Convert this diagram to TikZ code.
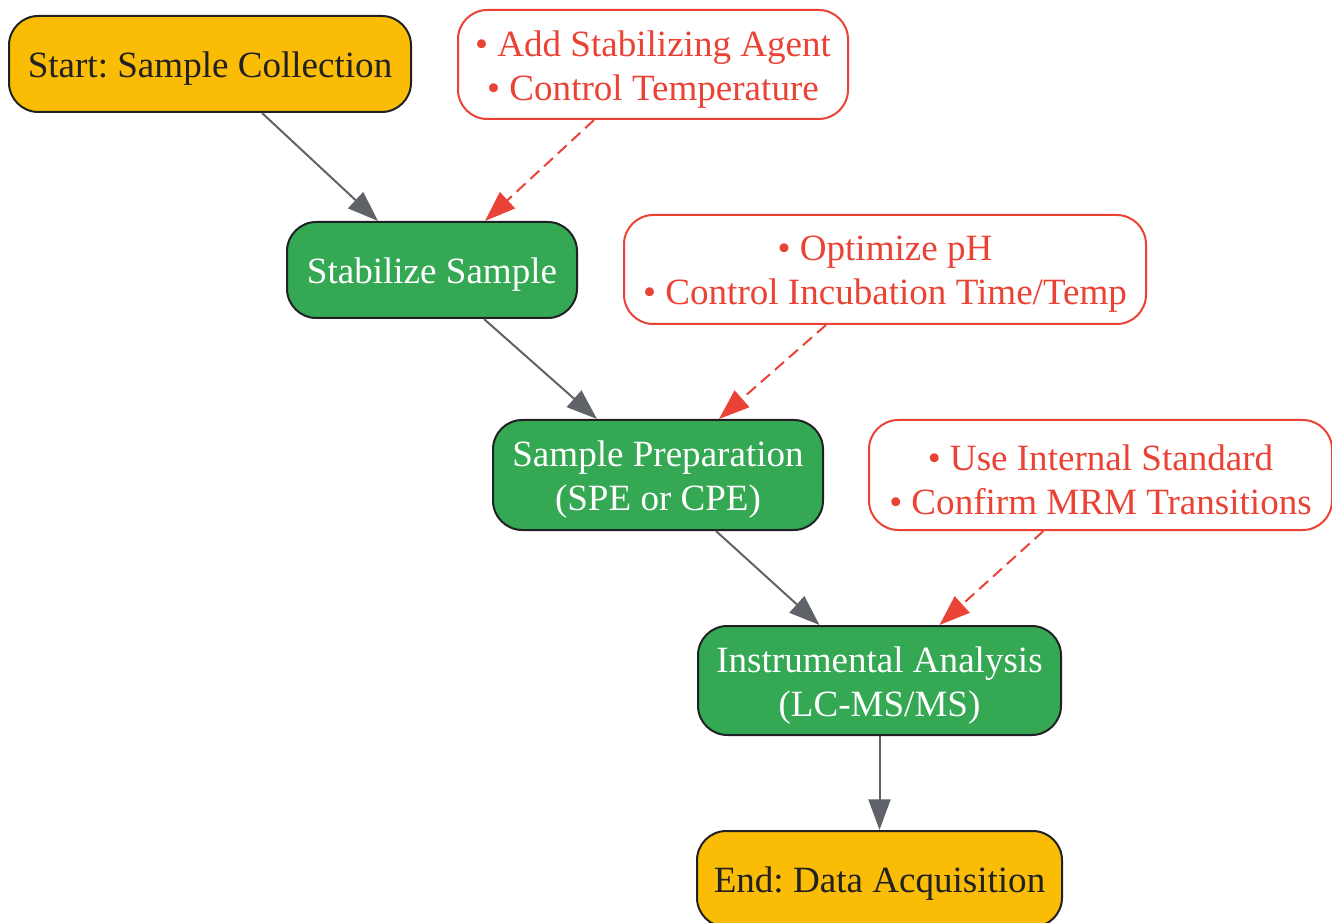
\documentclass[tikz,border=0pt]{standalone}
\usepackage{fontspec}
\setmainfont{Liberation Serif}
\usetikzlibrary{arrows.meta,calc}
\frenchspacing
\definecolor{gyellow}{HTML}{FBBC05}
\definecolor{ggreen}{HTML}{34A853}
\definecolor{gred}{HTML}{EA4335}
\definecolor{ggray}{HTML}{5F6368}
\definecolor{gdark}{HTML}{202124}
\newcommand{\dnline}[1]{\raisebox{-3.75pt}[\height][\depth]{#1}}
\tikzset{
  base/.style={rectangle, rounded corners=22pt, line width=1.5pt, align=center, inner sep=0pt,
    font=\fontsize{27.8}{33}\selectfont},
  term/.style={base, draw=gdark, fill=gyellow, text=gdark},
  proc/.style={base, draw=gdark, fill=ggreen, text=white},
  note/.style={base, draw=gred, fill=white, text=gred},
  flow/.style={draw=ggray, line width=1.5pt, -{Triangle[length=23pt,width=16.5pt]}},
  hint/.style={draw=gred, line width=1.5pt, dash pattern=on 9pt off 5pt, -{Triangle[length=23pt,width=16.5pt]}},
}
\begin{document}
\begin{tikzpicture}[x=0.75pt,y=-0.75pt]
\useasboundingbox (0,0) rectangle (1332,923);
\node[term, minimum width=301.5pt, minimum height=72pt] (start) at (210,64) {\dnline{Start: Sample Collection}};
\node[note, minimum width=292.5pt, minimum height=81.75pt] (n1) at (653,64.5) {\dnline{• Add Stabilizing Agent}\\\dnline{• Control Temperature}};
\node[proc, minimum width=217.5pt, minimum height=72pt] (stab) at (432,270) {\dnline{Stabilize Sample}};
\node[note, minimum width=391.5pt, minimum height=81.75pt] (n2) at (885,269.5) {\dnline{• Optimize pH}\\\dnline{• Control Incubation Time/Temp}};
\node[proc, minimum width=247.5pt, minimum height=82.5pt] (prep) at (658,475) {\dnline{Sample Preparation}\\\dnline{(SPE or CPE)}};
\node[note, minimum width=347.25pt, minimum height=82.5pt] (n3) at (1100.5,475) {\dnline{• Use Internal Standard}\\\dnline{• Confirm MRM Transitions}};
\node[proc, minimum width=272.25pt, minimum height=81.75pt] (instr) at (879.5,680.5) {\dnline{Instrumental Analysis}\\\dnline{(LC-MS/MS)}};
\node[term, minimum width=273.75pt, minimum height=72pt] (end) at (879.5,879) {\dnline{End: Data Acquisition}};

\draw[flow] ($(start.south)+(52,0)$) -- ($(stab.north)+(-54,0)$);
\draw[hint] ($(n1.south)+(-59,0)$) -- ($(stab.north)+(53,0)$);
\draw[flow] ($(stab.south)+(52,0)$) -- ($(prep.north)+(-61,0)$);
\draw[hint] ($(n2.south)+(-59,0)$) -- ($(prep.north)+(61,0)$);
\draw[flow] ($(prep.south)+(58,0)$) -- ($(instr.north)+(-60,0)$);
\draw[hint] ($(n3.south)+(-57,0)$) -- ($(instr.north)+(60,0)$);
\draw[flow] (instr.south) -- (end.north);
\end{tikzpicture}
\end{document}
